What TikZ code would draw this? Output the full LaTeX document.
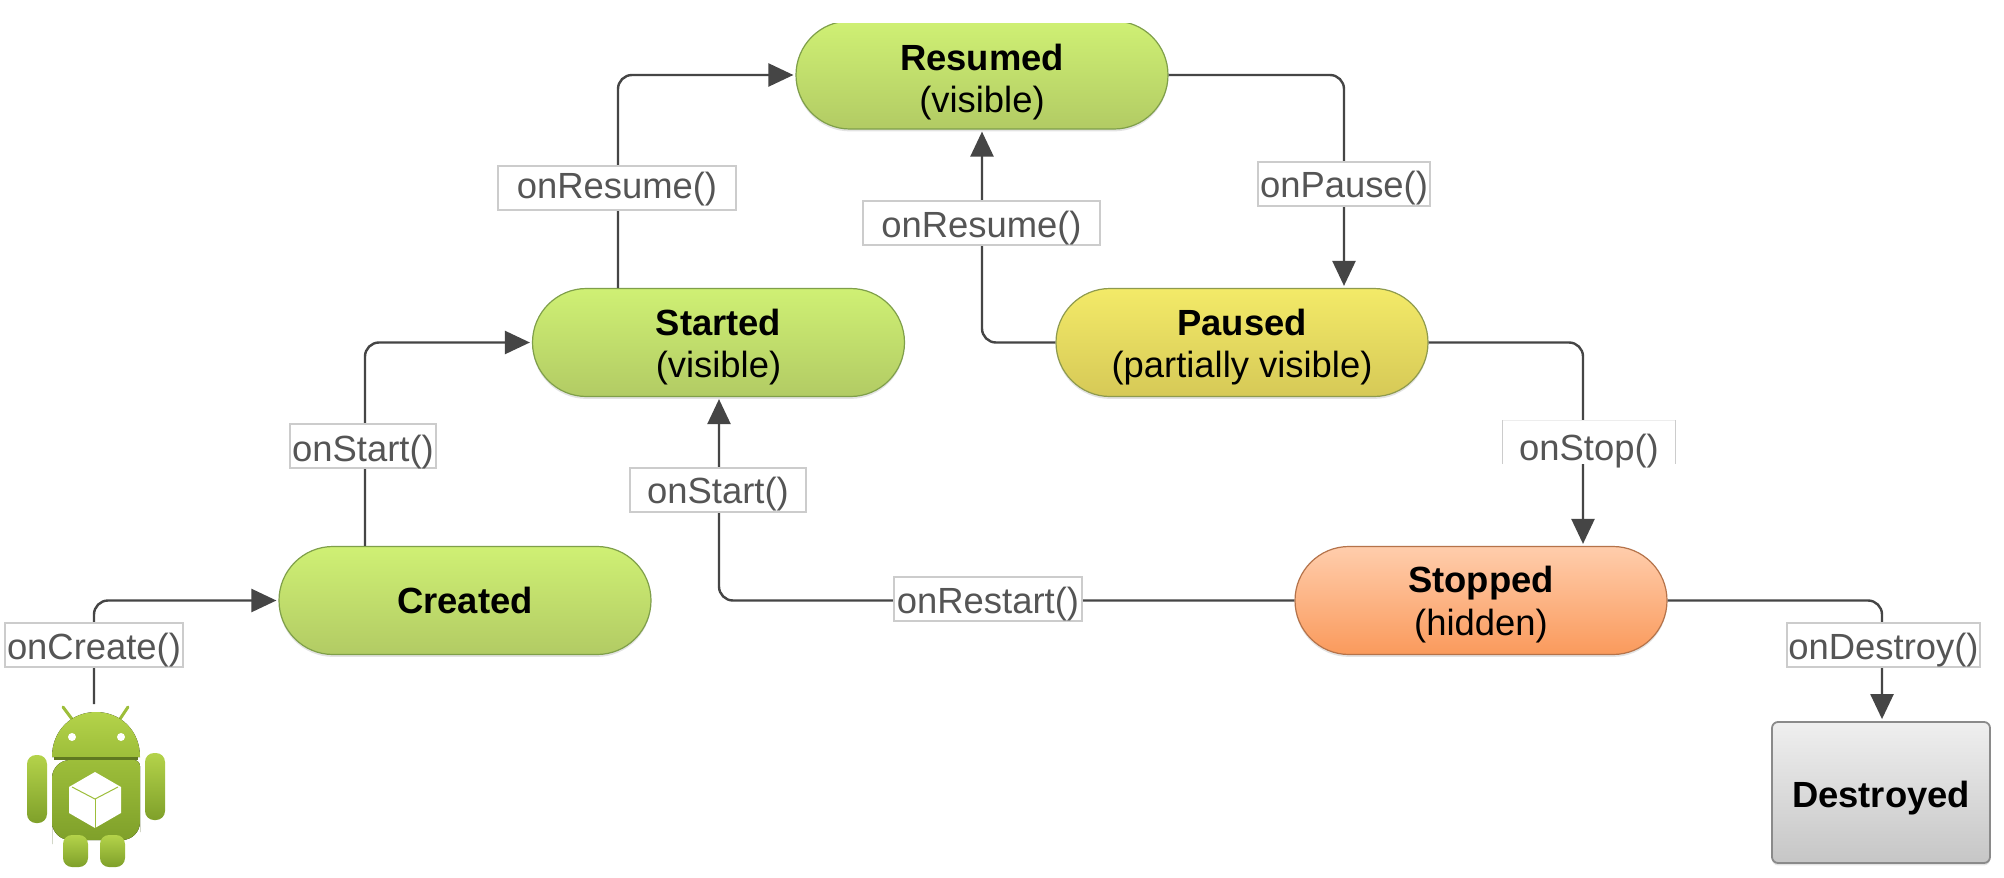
\documentclass[tikz,border=0pt]{standalone}
\usepackage{fontspec}
\setmainfont{Liberation Sans}
\usetikzlibrary{arrows.meta,shadows,calc}
\definecolor{linec}{HTML}{454545}
\definecolor{labtext}{HTML}{555555}
\definecolor{labbox}{HTML}{CCCCCC}
\definecolor{greentop}{HTML}{CFF074}
\definecolor{greenbot}{HTML}{B2CB64}
\definecolor{greenline}{HTML}{7F9F4A}
\definecolor{yeltop}{HTML}{F3EA68}
\definecolor{yelbot}{HTML}{D6C957}
\definecolor{yelline}{HTML}{8E9A4E}
\definecolor{ortop}{HTML}{FFCDAC}
\definecolor{orbot}{HTML}{FA9A5C}
\definecolor{orline}{HTML}{B5734A}
\definecolor{grtop}{HTML}{EFEFEF}
\definecolor{grbot}{HTML}{C6C6C6}
\definecolor{grline}{HTML}{8A8A8A}
\definecolor{droid}{HTML}{9DBE3A}
\definecolor{droiddark}{HTML}{7FA02A}
\definecolor{droidtop}{HTML}{B4D34A}
\newcommand{\lowered}[2]{\raisebox{-#1}[0pt][0pt]{#2}}
\tikzset{
  statebox/.style={rectangle,rounded corners=27pt,minimum width=186pt,minimum height=54pt,inner sep=0pt,
    align=center,line width=0.6pt,font=\fontsize{18.2}{22}\selectfont,text=black,
    drop shadow={opacity=.22,shadow xshift=0pt,shadow yshift=-1.2pt}},
  greenstate/.style={statebox,draw=greenline,top color=greentop,bottom color=greenbot},
  yellowstate/.style={statebox,draw=yelline,top color=yeltop,bottom color=yelbot},
  orangestate/.style={statebox,draw=orline,top color=ortop,bottom color=orbot},
  endstate/.style={rectangle,rounded corners=3pt,minimum width=109pt,minimum height=70.5pt,inner sep=0pt,
    line width=0.9pt,draw=grline,top color=grtop,bottom color=grbot,font=\fontsize{18.2}{22}\selectfont,
    drop shadow={opacity=.22,shadow xshift=0pt,shadow yshift=-1.2pt}},
  conn/.style={draw=linec,line width=1.2pt,rounded corners=7pt,shorten >=1pt,
    -{Triangle[length=12.5pt,width=11.5pt,fill=linec]}},
  lab/.style={rectangle,draw=labbox,fill=white,line width=0.8pt,inner sep=0pt,text=labtext,
    font=\fontsize{18.2}{22}\selectfont,minimum height=22pt},
  labopen/.style={rectangle,fill=white,inner sep=0pt,text=labtext,
    font=\fontsize{18.2}{22}\selectfont,minimum height=21.5pt},
  armpart/.style={rounded corners=4.5pt,top color=droidtop,bottom color=droiddark,draw=none},
}
\begin{document}
\begin{tikzpicture}[x=0.5pt,y=-0.5pt]
\useasboundingbox (0,0) rectangle (2004,878);
\fill[white] (0,0) rectangle (2004,878);
% states
\node[greenstate] (resumed) at (982,75) {\lowered{8.6pt}{\textbf{Resumed}}\\\lowered{7.5pt}{(visible)}};
\fill[white] (760,0) rectangle (1200,23);
\node[greenstate] (started) at (718.5,342.5) {\lowered{7.6pt}{\textbf{Started}}\\\lowered{6.5pt}{(visible)}};
\node[yellowstate] (paused) at (1242,342.5) {\lowered{7.6pt}{\textbf{Paused}}\\\lowered{6.5pt}{(partially visible)}};
\node[greenstate] (created) at (465,600.5) {\textbf{Created}};
\node[orangestate] (stopped) at (1481,600.5) {\lowered{7pt}{\textbf{Stopped}}\\\lowered{6.5pt}{(hidden)}};
\node[endstate] (destroyed) at (1881,792.5) {\lowered{7.6pt}{\textbf{Destroyed}}};
% line positions
\coordinate (android) at (94,704);
\coordinate (xcreate) at (94,0);
\coordinate (xstart) at (365,0);
\coordinate (xresume) at (618,0);
\coordinate (xpause) at (1344,0);
\coordinate (xback) at (982,0);
\coordinate (xstop) at (1583,0);
\coordinate (xrestart) at (719,0);
\coordinate (xdestroy) at (1882,0);
% connectors
\draw[conn] (android) |- (created.west);
\draw[conn] (created.north -| xstart) |- (started.west);
\draw[conn] (started.north -| xresume) |- (resumed.west);
\draw[conn] (resumed.east) -| (paused.north -| xpause);
\draw[conn] (paused.west) -| (resumed.south -| xback);
\draw[conn] (paused.east) -| (stopped.north -| xstop);
\draw[conn] (stopped.west) -| (started.south -| xrestart);
\draw[conn] (stopped.east) -| (destroyed.north -| xdestroy);
% labels
\node[lab,minimum width=89pt] (lcreate) at (94,645) {\lowered{7pt}{onCreate()}};
\node[lab,minimum width=73pt] (lstart) at (363,446) {\lowered{7.6pt}{onStart()}};
\node[lab,minimum width=119pt] (lresume) at (617,188) {\lowered{5.3pt}{onResume()}};
\node[lab,minimum width=86pt] (lpause) at (1344,184) {\lowered{6.6pt}{onPause()}};
\node[lab,minimum width=118.5pt] (lback) at (981.5,223) {\lowered{7pt}{onResume()}};
\node[labopen,minimum width=86pt] (lstop) at (1589,442) {\lowered{9pt}{onStop()}};
\draw[labbox,line width=0.8pt] (lstop.south west) -- (lstop.north west);
\draw[labbox!35,line width=0.6pt] (lstop.north west) -- (lstop.north east);
\draw[labbox,line width=0.8pt] (lstop.north east) -- (lstop.south east);
\node[lab,minimum width=88pt] (lstart2) at (718,490) {\lowered{6.5pt}{onStart()}};
\node[lab,minimum width=94pt] (lrestart) at (988,599) {\lowered{7pt}{onRestart()}};
\node[lab,minimum width=96.5pt] (ldestroy) at (1883.5,645) {\lowered{7pt}{onDestroy()}};
% android robot
\draw[droid,line width=1.5pt,line cap=round] (63,707) -- (72,719);
\draw[droid,line width=1.5pt,line cap=round] (128,707) -- (120,719);
\fill[top color=droidtop,bottom color=droid] (52,757) .. controls (52,730) and (72,712) .. (96,712) .. controls (120,712) and (140,730) .. (140,757) -- cycle;
\fill[white] (72,737) circle (4);
\fill[white] (121,737) circle (4);
\fill[droiddark!75!black] (54,757) rectangle (138,760);
\fill[top color=droid,bottom color=droiddark,rounded corners=3pt] (52,760) -- (140,760) -- (140,826) [rounded corners=9pt] -- (140,840) -- (52,840) -- (52,826) -- cycle;
\path[armpart] (27,755) rectangle (47,823);
\path[armpart] (145,753) rectangle (165,820);
\path[armpart] (63,835) rectangle (88,867);
\path[armpart] (100,835) rectangle (125,867);
\fill[white] (95,772) -- (121,787) -- (121,813) -- (95,828) -- (69,813) -- (69,787) -- cycle;
\draw[droid,line width=0.5pt] (72,787) -- (95,799) -- (118,787);
\draw[droid,line width=0.5pt] (95,799) -- (95,828);
\end{tikzpicture}
\end{document}
